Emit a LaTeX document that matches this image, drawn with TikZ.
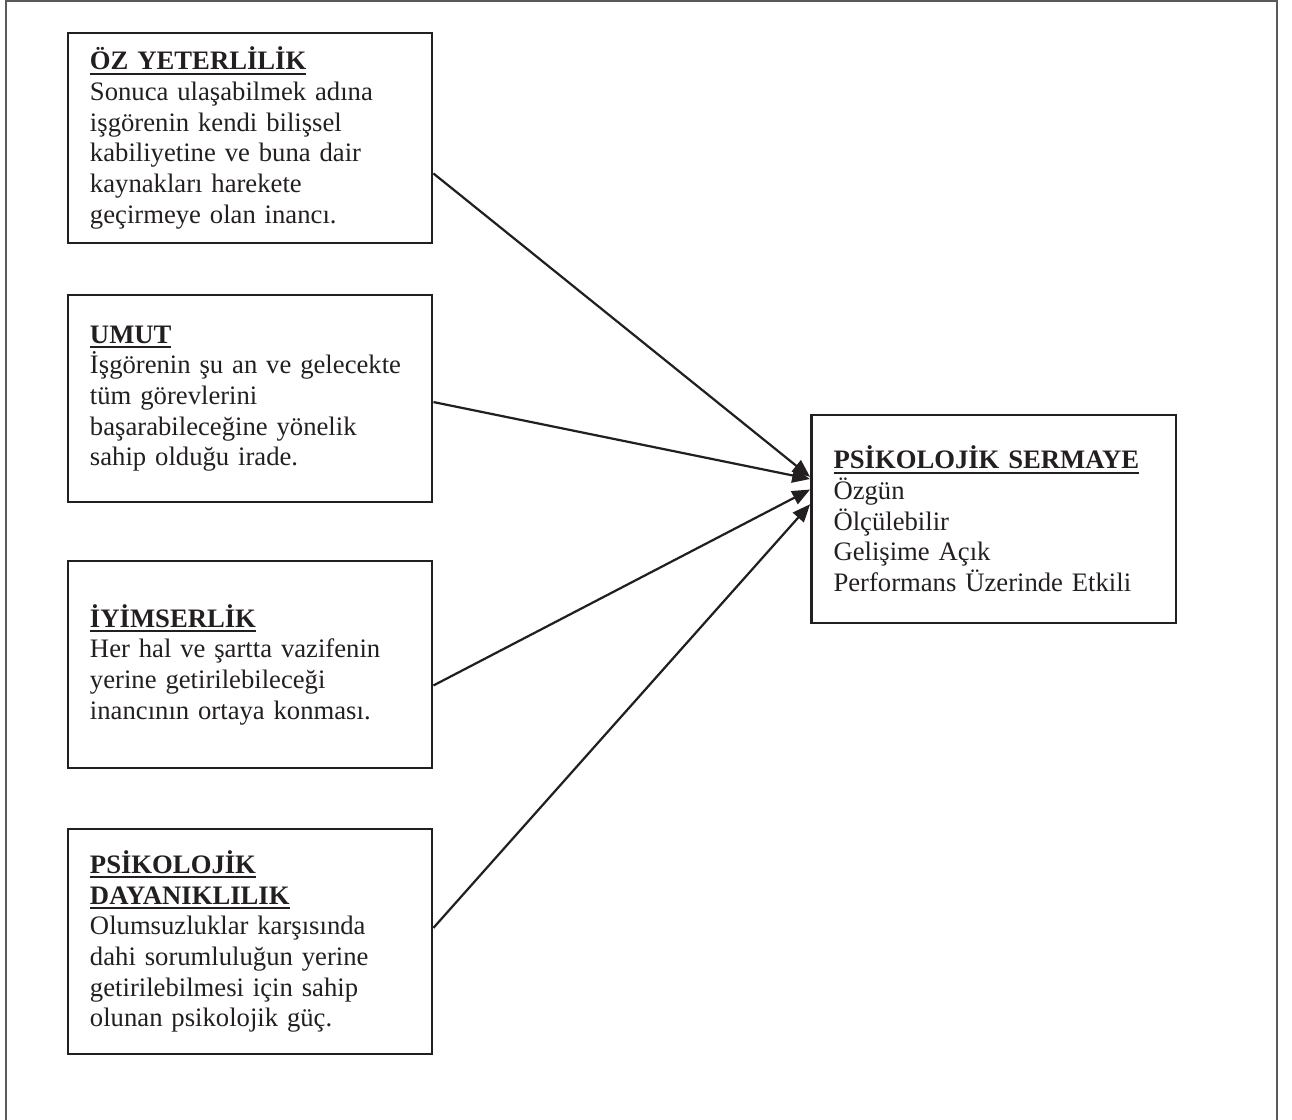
\documentclass[tikz,border=0pt]{standalone}
\usepackage{fontspec}
\setmainfont{Liberation Serif}
\usepackage{tikz}
\usetikzlibrary{arrows.meta,positioning,calc}
\definecolor{inkline}{RGB}{35,31,32}
% bold heading with a rule under the baseline
\newcommand{\hd}[1]{\leavevmode\setbox0\hbox{\textbf{#1}}\dp0=0pt%
  \vtop{\box0\kern1.2pt\hrule height1pt}}

\begin{document}
\begin{tikzpicture}[x=0.45pt,y=-0.45pt,
  capbox/.style={draw=inkline,line width=1.1pt,align=left,text width=144pt,
    inner xsep=10pt,minimum width=163.8pt,text=inkline,
    font=\fontsize{12pt}{13.8pt}\selectfont},
  link/.style={-{Triangle[length=8pt,width=6.5pt]},line width=1pt,inkline},
  outline/.style={line width=0.8pt,black!65}]
  \useasboundingbox (0,0) rectangle (1292,1120);
  % page frame, open at the bottom
  \draw[outline] (6,1125) |- (1277,1) -- (1277,1125);
  % the four components on the left
  \node[capbox,minimum height=94.5pt] (oz) at (250,138)
    {\hd{ÖZ YETERLİLİK}\\
     Sonuca ulaşabilmek adına\\
     işgörenin kendi bilişsel\\
     kabiliyetine ve buna dair\\
     kaynakları harekete\\
     geçirmeye olan inancı.};
  \node[capbox,minimum height=93.2pt] (umut) at (250,398.5)
    {\hd{UMUT}\\
     İşgörenin şu an ve gelecekte\\
     tüm görevlerini\\
     başarabileceğine yönelik\\
     sahip olduğu irade.};
  \node[capbox,minimum height=93.2pt] (iyim) at (250,664.5)
    {\hd{İYİMSERLİK}\\
     Her hal ve şartta vazifenin\\
     yerine getirilebileceği\\
     inancının ortaya konması.};
  \node[capbox,minimum height=101.3pt] (dayan) at (250,941.5)
    {\hd{PSİKOLOJİK}\\
     \hd{DAYANIKLILIK}\\
     Olumsuzluklar karşısında\\
     dahi sorumluluğun yerine\\
     getirilebilmesi için sahip\\
     olunan psikolojik güç.};
  % the whole on the right
  \node[capbox,minimum height=93.6pt] (ps) at (993.5,519)
    {\hd{PSİKOLOJİK SERMAYE}\\
     Özgün\\
     Ölçülebilir\\
     Gelişime Açık\\
     Performans Üzerinde Etkili};
  % arrows into the right box
  \draw[link] ($(oz.north east)!0.667!(oz.south east)$) -- ($(ps.north west)!0.30!(ps.south west)$);
  \draw[link] ($(umut.north east)!0.517!(umut.south east)$) -- ($(ps.north west)!0.31!(ps.south west)$);
  \draw[link] ($(iyim.north east)!0.60!(iyim.south east)$) -- ($(ps.north west)!0.36!(ps.south west)$);
  \draw[link] ($(dayan.north east)!0.44!(dayan.south east)$) -- ($(ps.north west)!0.43!(ps.south west)$);
\end{tikzpicture}
\end{document}
